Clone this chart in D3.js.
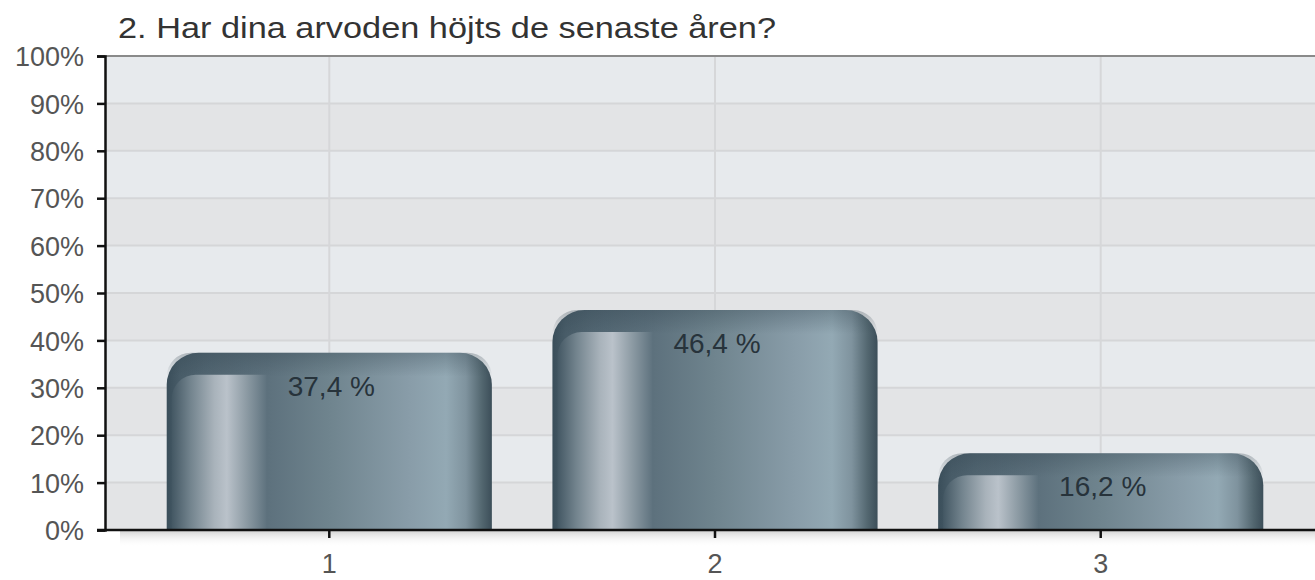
<!DOCTYPE html>
<html>
<head>
<meta charset="utf-8">
<script src="https://cdn.jsdelivr.net/npm/d3@7"></script>
<style>
  html, body { margin: 0; padding: 0; background: #ffffff; }
  svg { display: block; font-family: "Liberation Sans", Arial, Helvetica, sans-serif; }
</style>
</head>
<body>
<svg id="chart" width="1315" height="580"></svg>
<script>
// ---- data ----
const title = "2. Har dina arvoden höjts de senaste åren?";
const categories = ["1", "2", "3"];
const values = [37.4, 46.4, 16.2];
const valueLabels = ["37,4 %", "46,4 %", "16,2 %"];
const yTicks = [0, 10, 20, 30, 40, 50, 60, 70, 80, 90, 100];
const yTickLabels = ["0%", "10%", "20%", "30%", "40%", "50%", "60%", "70%", "80%", "90%", "100%"];

(function () {
// ---- layout ----
const svg = d3.select("#chart");
const pLeft = 105, pRight = 1325, pTop = 56, pBottom = 530;

const x = d3.scaleBand().domain(categories).range([pLeft, pRight]).paddingInner(0.157).paddingOuter(0.16);
const y = d3.scaleLinear().domain([0, 100]).range([pBottom, pTop]);

const defs = svg.append("defs");
const body = defs.append("linearGradient").attr("id", "barBody").attr("x1", 0).attr("x2", 1).attr("y1", 0).attr("y2", 0);
[[0, "#3a4e5a"], [0.04, "#485c68"], [0.12, "#516571"], [0.31, "#5d717d"], [0.5, "#6f848e"],
 [0.75, "#899da9"], [0.86, "#93a9b4"], [0.92, "#7f939e"], [0.97, "#52666f"], [1, "#3c4e59"]]
  .forEach(([o, c]) => body.append("stop").attr("offset", o).attr("stop-color", c));

const inner = defs.append("linearGradient").attr("id", "barInner").attr("x1", 0).attr("x2", 1).attr("y1", 0).attr("y2", 0);
[[0, "#435763"], [0.2, "#73848e"], [0.45, "#a9b3bb"], [0.58, "#bac2ca"], [0.78, "#8e9ca5"], [1, "#5e727e"]]
  .forEach(([o, c]) => inner.append("stop").attr("offset", o).attr("stop-color", c));

const topShade = defs.append("linearGradient").attr("id", "topShade").attr("x1", 0).attr("x2", 0).attr("y1", 0).attr("y2", 1);
topShade.append("stop").attr("offset", 0).attr("stop-color", "#2f414c").attr("stop-opacity", 0.3);
topShade.append("stop").attr("offset", 1).attr("stop-color", "#2f414c").attr("stop-opacity", 0);

const shadow = defs.append("linearGradient").attr("id", "axisShadow").attr("x1", 0).attr("x2", 0).attr("y1", 0).attr("y2", 1);
shadow.append("stop").attr("offset", 0).attr("stop-color", "#d0d0d0").attr("stop-opacity", 0.9);
shadow.append("stop").attr("offset", 1).attr("stop-color", "#ffffff").attr("stop-opacity", 0);

// ---- background bands ----
const bands = d3.range(0, 100, 10);
svg.append("g").selectAll("rect").data(bands).join("rect")
  .attr("x", pLeft).attr("width", 1315 - pLeft)
  .attr("y", d => y(d + 10)).attr("height", d => y(d) - y(d + 10))
  .attr("fill", d => (d / 10) % 2 === 0 ? "#e3e4e6" : "#e7eaed");

// horizontal grid
svg.append("g").selectAll("line").data(yTicks.filter(d => d > 0 && d < 100)).join("line")
  .attr("x1", pLeft).attr("x2", 1315).attr("y1", d => y(d)).attr("y2", d => y(d))
  .attr("stroke", "#d5d6d8").attr("stroke-width", 2);

// vertical grid at category centers
svg.append("g").selectAll("line").data(categories).join("line")
  .attr("x1", d => x(d) + x.bandwidth() / 2).attr("x2", d => x(d) + x.bandwidth() / 2)
  .attr("y1", pTop).attr("y2", pBottom)
  .attr("stroke", "#d6d7d9").attr("stroke-width", 2);

// top border
svg.append("line").attr("x1", pLeft).attr("x2", 1315).attr("y1", pTop).attr("y2", pTop)
  .attr("stroke", "#8a8a8a").attr("stroke-width", 2);

// shadow under x axis
svg.append("rect").attr("x", 120).attr("y", pBottom + 1).attr("width", 1315 - 120).attr("height", 16)
  .attr("fill", "url(#axisShadow)");

// ---- bars ----
function roundedTopPath(x0, y0, w, h, rl, rr) {
  const a = Math.min(rl, h, w / 2), b = Math.min(rr, h, w / 2);
  let p = `M${x0},${y0 + h}V${y0 + a}`;
  p += a > 0 ? `A${a},${a} 0 0 1 ${x0 + a},${y0}` : "";
  p += `H${x0 + w - b}`;
  p += b > 0 ? `A${b},${b} 0 0 1 ${x0 + w},${y0 + b}` : "";
  p += `V${y0 + h}Z`;
  return p;
}
const bars = svg.append("g").selectAll("g").data(categories.map((c, i) => ({c, v: values[i], label: valueLabels[i]}))).join("g");
bars.append("path")
  .attr("d", d => roundedTopPath(x(d.c), y(d.v), x.bandwidth(), pBottom - y(d.v), 32, 32))
  .attr("fill", "url(#barBody)");
bars.append("path")
  .attr("d", d => roundedTopPath(x(d.c), y(d.v), x.bandwidth(), Math.min(24, pBottom - y(d.v)), 32, 32))
  .attr("fill", "url(#topShade)");
bars.append("path")
  .attr("d", d => roundedTopPath(x(d.c) + 5, y(d.v) + 22, 95, pBottom - y(d.v) - 22, 24, 0))
  .attr("fill", "url(#barInner)");
bars.append("text")
  .attr("x", d => x(d.c) + x.bandwidth() / 2 + 2)
  .attr("y", d => y(d.v) + 43)
  .attr("text-anchor", "middle")
  .attr("font-size", 28)
  .attr("fill", "#27333b")
  .text(d => d.label);

// ---- axes ----
const yAxis = d3.axisLeft(y).tickValues(yTicks).tickFormat((d, i) => yTickLabels[i]).tickSize(8).tickPadding(13);
const gy = svg.append("g").attr("transform", `translate(${pLeft},0)`).call(yAxis);
gy.select(".domain").attr("stroke", "#111").attr("stroke-width", 2.5);
gy.selectAll(".tick line").attr("stroke", "#111").attr("stroke-width", 2.5);
gy.selectAll(".tick text").attr("font-size", 27).attr("fill", "#555").attr("font-family", null).attr("dy", "0.36em");

const xAxis = d3.axisBottom(x).tickSize(8).tickPadding(16).tickSizeOuter(0);
const gx = svg.append("g").attr("transform", `translate(0,${pBottom})`).call(xAxis);
gx.select(".domain").remove();
gx.append("line").attr("x1", pLeft - 8).attr("x2", 1315).attr("y1", 0).attr("y2", 0)
  .attr("stroke", "#111").attr("stroke-width", 2.5);
gx.selectAll(".tick line").attr("stroke", "#111").attr("stroke-width", 2.5);
gx.selectAll(".tick text").attr("font-size", 27).attr("fill", "#555").attr("font-family", null);

// ---- title ----
svg.append("text").attr("x", 118).attr("y", 38).attr("font-size", 29).attr("fill", "#333")
  .attr("textLength", 658).attr("lengthAdjust", "spacingAndGlyphs")
  .text(title);
})();
</script>
</body>
</html>
